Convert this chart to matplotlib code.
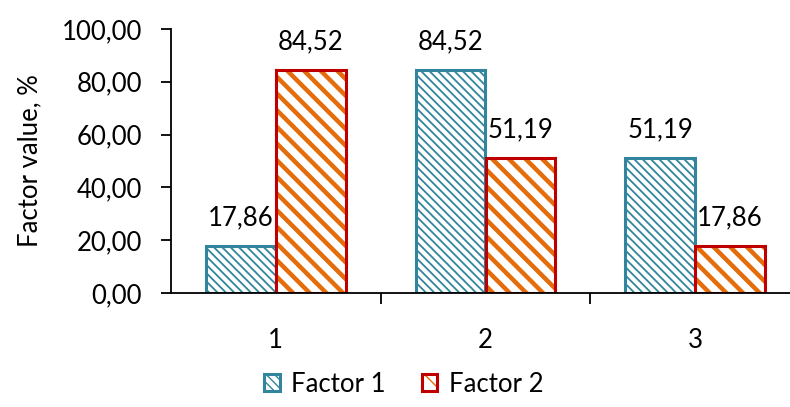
import numpy as np
import matplotlib.pyplot as plt

plt.rcParams['font.family'] = ['Lato', 'DejaVu Sans']

categories = ['1', '2', '3']
factor1 = [17.86, 84.52, 51.19]
factor2 = [84.52, 51.19, 17.86]

teal = '#31859C'
orange = '#E46C0A'
red = '#C00000'
fs = 18.5

fig = plt.figure(figsize=(7.90, 4.07), dpi=100)
ax = fig.add_axes([171 / 790, 114 / 407, 629 / 790, 264 / 407])

x = np.arange(len(categories))
w = 1 / 3

with plt.rc_context({'hatch.linewidth': 1.3, 'hatch.color': teal}):
    b1 = ax.bar(x - w / 2, factor1, w, facecolor='white', edgecolor=teal,
                hatch='\\\\\\\\', linewidth=2.2, label='Factor 1')
with plt.rc_context({'hatch.linewidth': 3.2, 'hatch.color': orange}):
    b2 = ax.bar(x + w / 2, factor2, w, facecolor='white', edgecolor=red,
                hatch='\\\\', linewidth=2.2, label='Factor 2')
for bars, c in ((b1, teal), (b2, orange)):
    for p in bars:
        p._hatch_color = plt.matplotlib.colors.to_rgba(c)

for bars, vals in ((b1, factor1), (b2, factor2)):
    for p, v in zip(bars, vals):
        ax.annotate(f'{v:.2f}'.replace('.', ','),
                    (p.get_x() + p.get_width() / 2, v),
                    xytext=(0, 11), textcoords='offset points',
                    ha='center', va='bottom', fontsize=fs)

ax.set_xlim(-0.5, 2.5)
ax.set_ylim(0, 100)
ax.set_yticks(np.arange(0, 101, 20))
ax.set_yticklabels([f'{t:.2f}'.replace('.', ',') for t in np.arange(0, 101, 20)])
ax.set_xticks(x)
ax.set_xticklabels(categories)
ax.set_xticks([0.5, 1.5], minor=True)
ax.tick_params(axis='x', which='major', length=0, pad=25, labelsize=fs)
ax.tick_params(axis='x', which='minor', length=8, width=1.3)
ax.tick_params(axis='y', length=7, width=1.3, labelsize=fs, pad=14)
ax.set_ylabel('Factor value, %', fontsize=fs, labelpad=14)

for s in ('top', 'right'):
    ax.spines[s].set_visible(False)
ax.spines['left'].set_linewidth(1.3)
ax.spines['bottom'].set_linewidth(1.3)

fig.legend(handles=[b1, b2], loc='center', bbox_to_anchor=(404 / 790, 1 - 384 / 407),
           ncol=2, frameon=False, fontsize=fs, handlelength=0.6, handleheight=0.6,
           handletextpad=0.45, columnspacing=1.4)

fig.savefig('out.png', dpi=100)
